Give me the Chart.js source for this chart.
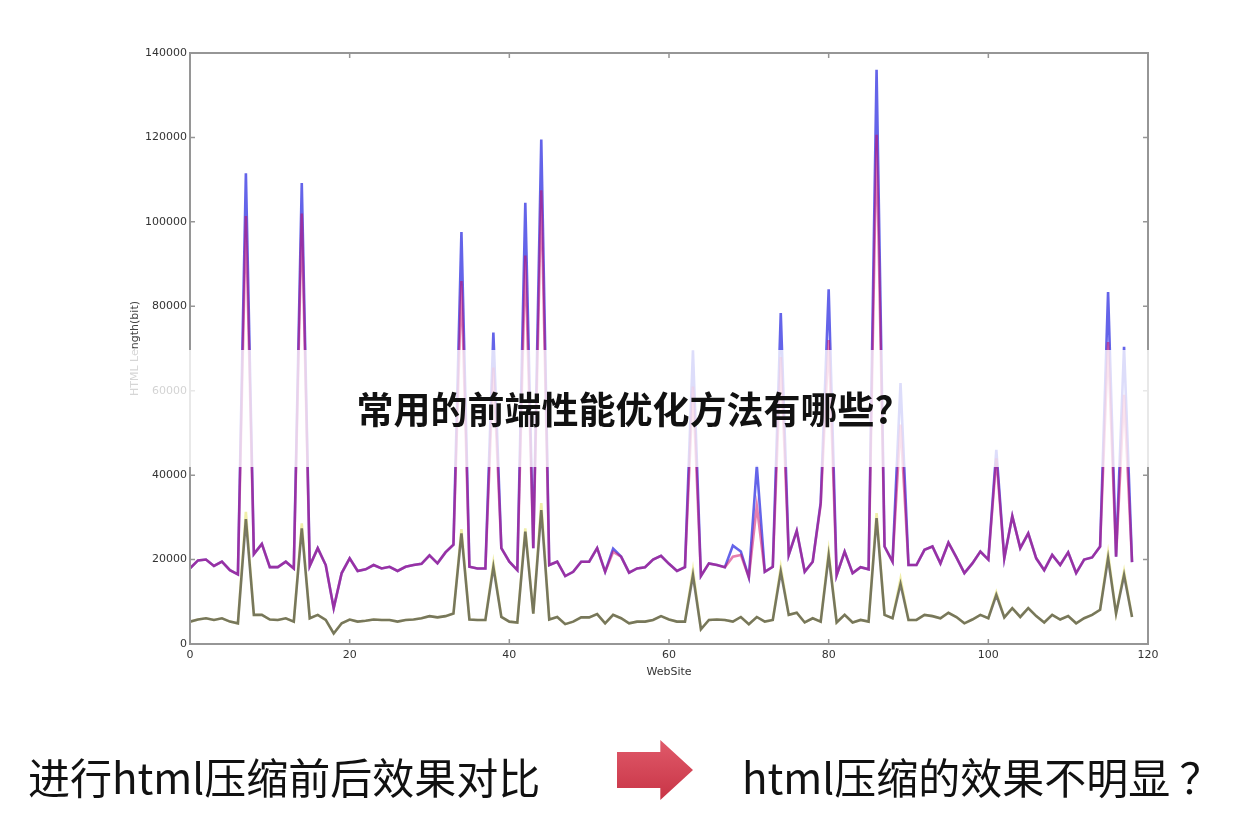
<!DOCTYPE html>
<html>
<head>
<meta charset="utf-8">
<script src="https://cdn.jsdelivr.net/npm/chart.js@4.4.0/dist/chart.umd.min.js"></script>
<style>
    body { margin: 0; background: #fff; }
    #wrap { position: relative; width: 1250px; height: 816px; overflow: hidden; font-family: "Noto Sans CJK SC", "Noto Sans", sans-serif; }
    #chart { position: absolute; left: 0; top: 0; }
    #band { position: absolute; left: 0; top: 350px; width: 1250px; height: 117px; background: rgba(255, 255, 255, 0.78); }
    #headline { position: absolute; left: 0; top: 350px; width: 1250px; height: 117px; line-height: 117px; text-align: center; font-size: 37px; font-weight: 700; color: #111; }
    .caption { position: absolute; top: 748px; font-size: 42px; line-height: 56px; color: #111; white-space: nowrap; }
    #arrow { position: absolute; left: 617px; top: 740px; width: 76px; height: 60px;
        background: linear-gradient(180deg, #e05a6a, #c83446);
        clip-path: polygon(0 20%, 57% 20%, 57% 0, 100% 50%, 57% 100%, 57% 80%, 0 80%); }
</style>
</head>
<body>
<div id="wrap">
    <canvas id="chart" width="1250" height="816"></canvas>
    <div id="band"></div>
    <div id="headline">常用的前端性能优化方法有哪些?</div>
    <div class="caption" style="left: 28px;">进行html压缩前后效果对比</div>
    <div id="arrow"></div>
    <div class="caption" style="left: 742px;">html压缩的效果不明显 ？</div>
</div>
<script>
// site index along the x axis
var sites = [
    0, 1, 2, 3, 4, 5, 6, 7, 8, 9, 10, 11, 12, 13, 14, 15, 16, 17, 18, 19,
    20, 21, 22, 23, 24, 25, 26, 27, 28, 29, 30, 31, 32, 33, 34, 35, 36, 37, 38, 39,
    40, 41, 42, 43, 44, 45, 46, 47, 48, 49, 50, 51, 52, 53, 54, 55, 56, 57, 58, 59,
    60, 61, 62, 63, 64, 65, 66, 67, 68, 69, 70, 71, 72, 73, 74, 75, 76, 77, 78, 79,
    80, 81, 82, 83, 84, 85, 86, 87, 88, 89, 90, 91, 92, 93, 94, 95, 96, 97, 98, 99,
    100, 101, 102, 103, 104, 105, 106, 107, 108, 109, 110, 111, 112, 113, 114, 115, 116, 117, 118
];

// original html length (blue)
var originalLen = [
    17900, 19800, 20000, 18500, 19500, 17500, 16500, 111500, 21300, 23700,
    18200, 18200, 19500, 17900, 109200, 18500, 22700, 18700, 8500, 16800,
    20300, 17300, 17700, 18700, 17900, 18300, 17300, 18300, 18700, 19000,
    21000, 19100, 21700, 23500, 97600, 18300, 17900, 17900, 73800, 22700,
    19500, 17500, 104500, 22700, 119500, 18700, 19500, 16100, 17100, 19500,
    19500, 22700, 17100, 22600, 20700, 16900, 17900, 18200, 20000, 20900,
    19000, 17300, 18200, 69600, 16100, 19100, 18700, 18200, 23300, 21900,
    15800, 42200, 17100, 18300, 78400, 21100, 26800, 17100, 19500, 33500,
    84000, 16300, 21900, 16800, 18200, 17700, 136000, 23100, 19500, 61800,
    18700, 18700, 22300, 23100, 19100, 24000, 20500, 16800, 19100, 21900,
    20000, 46000, 20300, 30300, 22700, 26200, 20300, 17500, 21100, 18700,
    21700, 16800, 20000, 20500, 23100, 83400, 20700, 70400, 19400
];

// after html minify (red)
var minifiedLen = [
    17900, 19800, 20000, 18500, 19500, 17500, 16500, 101400, 21300, 23700,
    18200, 18200, 19500, 17900, 102000, 18500, 22700, 18700, 8500, 16800,
    20300, 17300, 17700, 18700, 17900, 18300, 17300, 18300, 18700, 19000,
    21000, 19100, 21700, 23500, 86000, 18300, 17900, 17900, 65500, 22700,
    19500, 17500, 92000, 22700, 107500, 18700, 19500, 16100, 17100, 19500,
    19500, 22700, 17100, 21800, 20700, 16900, 17900, 18200, 20000, 20900,
    19000, 17300, 18200, 61000, 16100, 19100, 18700, 18200, 20700, 21100,
    15800, 32700, 17100, 18300, 68000, 21100, 26800, 17100, 19500, 33000,
    72000, 16300, 21900, 16800, 18200, 17700, 120600, 23100, 19500, 52000,
    18700, 18700, 22300, 23100, 19100, 24000, 20500, 16800, 19100, 21900,
    20000, 44000, 20300, 30300, 22700, 26200, 20300, 17500, 21100, 18700,
    21700, 16800, 20000, 20500, 23100, 71500, 20700, 59000, 19400
];

// gzip of original (yellow)
var gzipOriginal = [
    5300, 5800, 6100, 5700, 6100, 5300, 4900, 31300, 6900, 6900,
    5800, 5700, 6100, 5300, 28600, 6100, 6900, 5700, 2500, 4900,
    5800, 5300, 5500, 5800, 5700, 5700, 5300, 5700, 5800, 6100,
    6600, 6300, 6600, 7200, 27200, 5800, 5700, 5700, 19200, 6400,
    5300, 5100, 27400, 7200, 33400, 5800, 6400, 4700, 5300, 6300,
    6300, 7100, 4900, 6900, 6100, 4900, 5300, 5300, 5700, 6600,
    5800, 5300, 5300, 17500, 3500, 5700, 5800, 5700, 5300, 6400,
    4700, 6400, 5300, 5700, 18200, 6900, 7400, 5100, 6100, 5300,
    22000, 5100, 6900, 5100, 5700, 5300, 31000, 6900, 6100, 15400,
    5700, 5700, 6900, 6600, 6100, 7400, 6400, 4900, 5800, 6900,
    6100, 12200, 6300, 8500, 6400, 8500, 6600, 5100, 6900, 5800,
    6600, 4900, 6100, 6900, 8100, 21500, 7200, 17200, 6400
];

// gzip of minified (black)
var gzipMinified = [
    5300, 5800, 6100, 5700, 6100, 5300, 4900, 29600, 6900, 6900,
    5800, 5700, 6100, 5300, 27400, 6100, 6900, 5700, 2500, 4900,
    5800, 5300, 5500, 5800, 5700, 5700, 5300, 5700, 5800, 6100,
    6600, 6300, 6600, 7200, 26200, 5800, 5700, 5700, 18200, 6400,
    5300, 5100, 26600, 7200, 31700, 5800, 6400, 4700, 5300, 6300,
    6300, 7100, 4900, 6900, 6100, 4900, 5300, 5300, 5700, 6600,
    5800, 5300, 5300, 16300, 3500, 5700, 5800, 5700, 5300, 6400,
    4700, 6400, 5300, 5700, 17100, 6900, 7400, 5100, 6100, 5300,
    20900, 5100, 6900, 5100, 5700, 5300, 29800, 6900, 6100, 14200,
    5700, 5700, 6900, 6600, 6100, 7400, 6400, 4900, 5800, 6900,
    6100, 11600, 6300, 8500, 6400, 8500, 6600, 5100, 6900, 5800,
    6600, 4900, 6100, 6900, 8100, 20300, 7200, 16300, 6400
];

// matplotlib style box with inward ticks
var frameBox = {
    id: 'frameBox',
    afterDatasetsDraw: function(chart) {
        var ctx = chart.ctx;
        var a = chart.chartArea;
        var xs = chart.scales.x, ys = chart.scales.y;
        ctx.save();
        ctx.strokeStyle = '#969696';
        ctx.lineWidth = 2;
        ctx.strokeRect(a.left, a.top, a.right - a.left, a.bottom - a.top);
        ctx.lineWidth = 1.5;
        ctx.beginPath();
        xs.ticks.forEach(function(t) {
            var px = xs.getPixelForValue(t.value);
            ctx.moveTo(px, a.bottom); ctx.lineTo(px, a.bottom - 5);
            ctx.moveTo(px, a.top); ctx.lineTo(px, a.top + 5);
        });
        ys.ticks.forEach(function(t) {
            var py = ys.getPixelForValue(t.value);
            ctx.moveTo(a.left, py); ctx.lineTo(a.left + 5, py);
            ctx.moveTo(a.right, py); ctx.lineTo(a.right - 5, py);
        });
        ctx.stroke();
        ctx.restore();
    }
};

function lineSet(label, values, color) {
    return {
        label: label,
        data: values,
        borderColor: color,
        borderWidth: 2.6,
        pointRadius: 0,
        tension: 0,
        fill: false
    };
}

function plainNumber(value) {
    return String(value);
}

var ctx = document.getElementById('chart').getContext('2d');
var chart = new Chart(ctx, {
    type: 'line',
    data: {
        labels: sites,
        datasets: [
            lineSet('minified', minifiedLen, 'rgba(205, 0, 95, 0.5)'),
            lineSet('original', originalLen, 'rgba(40, 40, 225, 0.72)'),
            lineSet('gzip minified', gzipMinified, 'rgba(40, 40, 40, 0.6)'),
            lineSet('gzip original', gzipOriginal, 'rgba(215, 210, 30, 0.38)')
        ]
    },
    options: {
        responsive: false,
        animation: false,
        devicePixelRatio: 1,
        layout: { padding: { left: 120, right: 102, top: 53, bottom: 137 } },
        plugins: { legend: { display: false }, tooltip: { enabled: false } },
        scales: {
            x: {
                type: 'linear',
                min: 0,
                max: 120,
                grid: { display: false, drawTicks: false },
                border: { display: false },
                ticks: { stepSize: 20, padding: 5, color: '#333', callback: plainNumber, font: { family: 'DejaVu Sans', size: 11 } },
                title: { display: true, text: 'WebSite', color: '#333', padding: { top: 6, bottom: 0 }, font: { family: 'DejaVu Sans', size: 11 } },
                afterFit: function(scale) { scale.height = 35; }
            },
            y: {
                min: 0,
                max: 140000,
                grid: { display: false, drawTicks: false },
                border: { display: false },
                ticks: { stepSize: 20000, padding: 3, color: '#333', callback: plainNumber, font: { family: 'DejaVu Sans', size: 11 } },
                title: { display: true, text: 'HTML Length(bit)', color: '#444', padding: { top: 9, bottom: 0 }, font: { family: 'DejaVu Sans', size: 11 } },
                afterFit: function(scale) { scale.width = 70; }
            }
        }
    },
    plugins: [frameBox]
});
</script>
</body>
</html>
